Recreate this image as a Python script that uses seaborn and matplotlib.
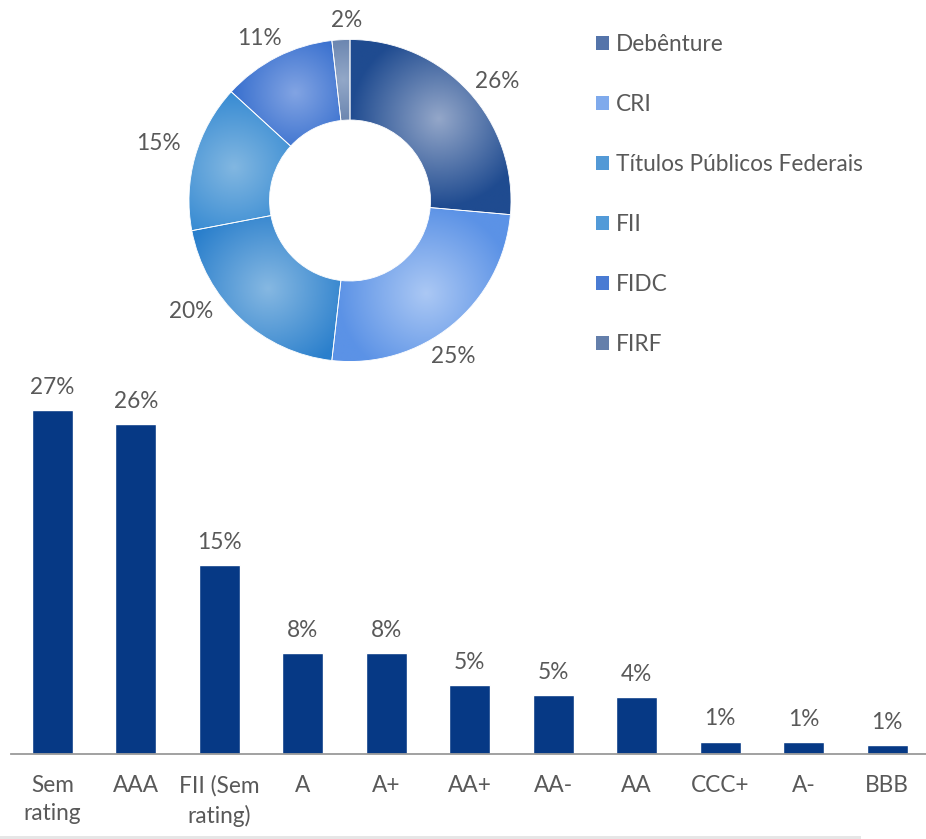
import numpy as np
import pandas as pd
import matplotlib
matplotlib.use("Agg")
import matplotlib.pyplot as plt
from matplotlib.patches import Wedge, Patch, Rectangle
from matplotlib.colors import to_rgb
import seaborn as sns

# ---------------- data ----------------
pie_labels = ["Debênture", "CRI", "Títulos Públicos Federais", "FII", "FIDC", "FIRF"]
pie_values = [26.4, 25.4, 20.2, 14.8, 11.4, 1.8]

bar_categories = ["Sem\nrating", "AAA", "FII (Sem\nrating)", "A", "A+", "AA+", "AA-", "AA",
                  "CCC+", "A-", "BBB"]
bar_values = [27.0, 25.9, 14.8, 7.9, 7.9, 5.4, 4.6, 4.45, 0.95, 0.93, 0.7]

# ---------------- style ----------------
sns.set_style("white")
plt.rcParams['font.family'] = ['Lato', 'DejaVu Sans']
TXT = "#595959"
FS = 16.3

W, H = 926, 839
fig = plt.figure(figsize=(W / 100, H / 100), dpi=100)

# colours: (edge/dark, centre/light)
grad = [("#1f4b90", "#94a7c9"),
        ("#5b92e6", "#abc8f4"),
        ("#2a7fcc", "#86b8e2"),
        ("#2a83d0", "#82b7e1"),
        ("#1a5ac6", "#82a4e3"),
        ("#3d5e94", "#93a8c8")]
base_cols = []
for d, l in grad:
    a, b = np.array(to_rgb(d)), np.array(to_rgb(l))
    base_cols.append(tuple(a * 0.55 + b * 0.45))

# ---------------- donut ----------------
cx, cy, R = 350, 200.5, 161
half = 200
ax_p = fig.add_axes([(cx - half) / W, (H - cy - half) / H, 2 * half / W, 2 * half / H])
lim = half / R
wedges, texts, autotexts = ax_p.pie(
    pie_values, startangle=90, counterclock=False, radius=1, colors=base_cols,
    wedgeprops=dict(width=0.5, edgecolor="white", linewidth=0.6),
    autopct=lambda p: f"{p:.0f}%", pctdistance=1.16,
    textprops=dict(color=TXT, fontsize=FS))

# data-label placement (best-fit style), offsets from centre in units of the radius
label_offsets = [(0.913, 0.739), (0.640, -0.969), (-0.988, -0.689),
                 (-1.193, 0.354), (-0.565, 1.006), (-0.019, 1.118)]
for t, (ox, oy) in zip(autotexts, label_offsets):
    t.set_position((ox, oy))

# radial gradient fill clipped to each wedge
n = 400
xs = np.linspace(-1, 1, n)
X, Y = np.meshgrid(xs, xs[::-1])
for w, (dark, light) in zip(wedges, grad):
    t1, t2 = w.theta1, w.theta2
    tm = np.deg2rad((t1 + t2) / 2)
    px, py = 0.75 * np.cos(tm), 0.75 * np.sin(tm)
    d = np.sqrt((X - px) ** 2 + (Y - py) ** 2)
    f = np.clip(d / 0.55, 0, 1)[..., None]
    img = np.array(to_rgb(light)) * (1 - f) + np.array(to_rgb(dark)) * f
    im = ax_p.imshow(img, extent=(-1, 1, -1, 1), zorder=1.5, interpolation="bilinear")
    im.set_clip_path(w)
    ax_p.add_patch(Wedge((0, 0), 1, t1, t2, width=0.5, fill=False,
                         edgecolor="white", linewidth=0.6, zorder=1.6))
ax_p.set_xlim(-lim, lim)
ax_p.set_ylim(-lim, lim)
ax_p.set_aspect("auto")
ax_p.axis("off")

# legend
handles = [Patch(facecolor=c, edgecolor="none") for c in base_cols]
leg = fig.legend(handles, pie_labels, loc="upper left",
                 bbox_to_anchor=(596 / W, 1 - 34 / H), frameon=False,
                 fontsize=FS, labelcolor=TXT, handlelength=0.58, handleheight=0.58,
                 handletextpad=0.3, labelspacing=1.72, borderaxespad=0, borderpad=0)

# ---------------- bars ----------------
left_px, right_px = 10.6, 929
base_px = 754
ymax = 30
scale = 12.74
ax_b = fig.add_axes([left_px / W, (H - base_px) / H, (right_px - left_px) / W, ymax * scale / H])
df = pd.DataFrame({"cat": bar_categories, "val": bar_values})
sns.barplot(data=df, x="cat", y="val", color="#063985", saturation=1, width=0.49, ax=ax_b)
ax_b.set_xlim(-0.5, len(bar_categories) - 0.5)
ax_b.set_ylim(0, ymax)
for c in ax_b.containers:
    ax_b.bar_label(c, labels=[f"{v:.0f}%" for v in bar_values], padding=9,
                   color=TXT, fontsize=FS)
for s in ["top", "right", "left"]:
    ax_b.spines[s].set_visible(False)
ax_b.spines["bottom"].set_color("#9a9a9a")
ax_b.spines["bottom"].set_linewidth(1.3)
ax_b.set_yticks([])
ax_b.set_xlabel("")
ax_b.set_ylabel("")
ax_b.set_xticks(range(len(bar_categories)))
ax_b.set_xticklabels(bar_categories, color=TXT, fontsize=FS, linespacing=1.45)
ax_b.tick_params(axis="x", which="major", length=0, pad=15)
ax_b.set_xticks(np.arange(-0.5, len(bar_categories), 1), minor=True)
ax_b.tick_params(axis="x", which="minor", length=6, width=1.3, color="#9a9a9a", direction="out")

# thin grey strip at the bottom
fig.patches.append(Rectangle((0, 0), 861 / W, 3.5 / H, transform=fig.transFigure,
                             facecolor="#e6e6e6", edgecolor="none"))

fig.savefig("out.png", dpi=100, facecolor="white")
